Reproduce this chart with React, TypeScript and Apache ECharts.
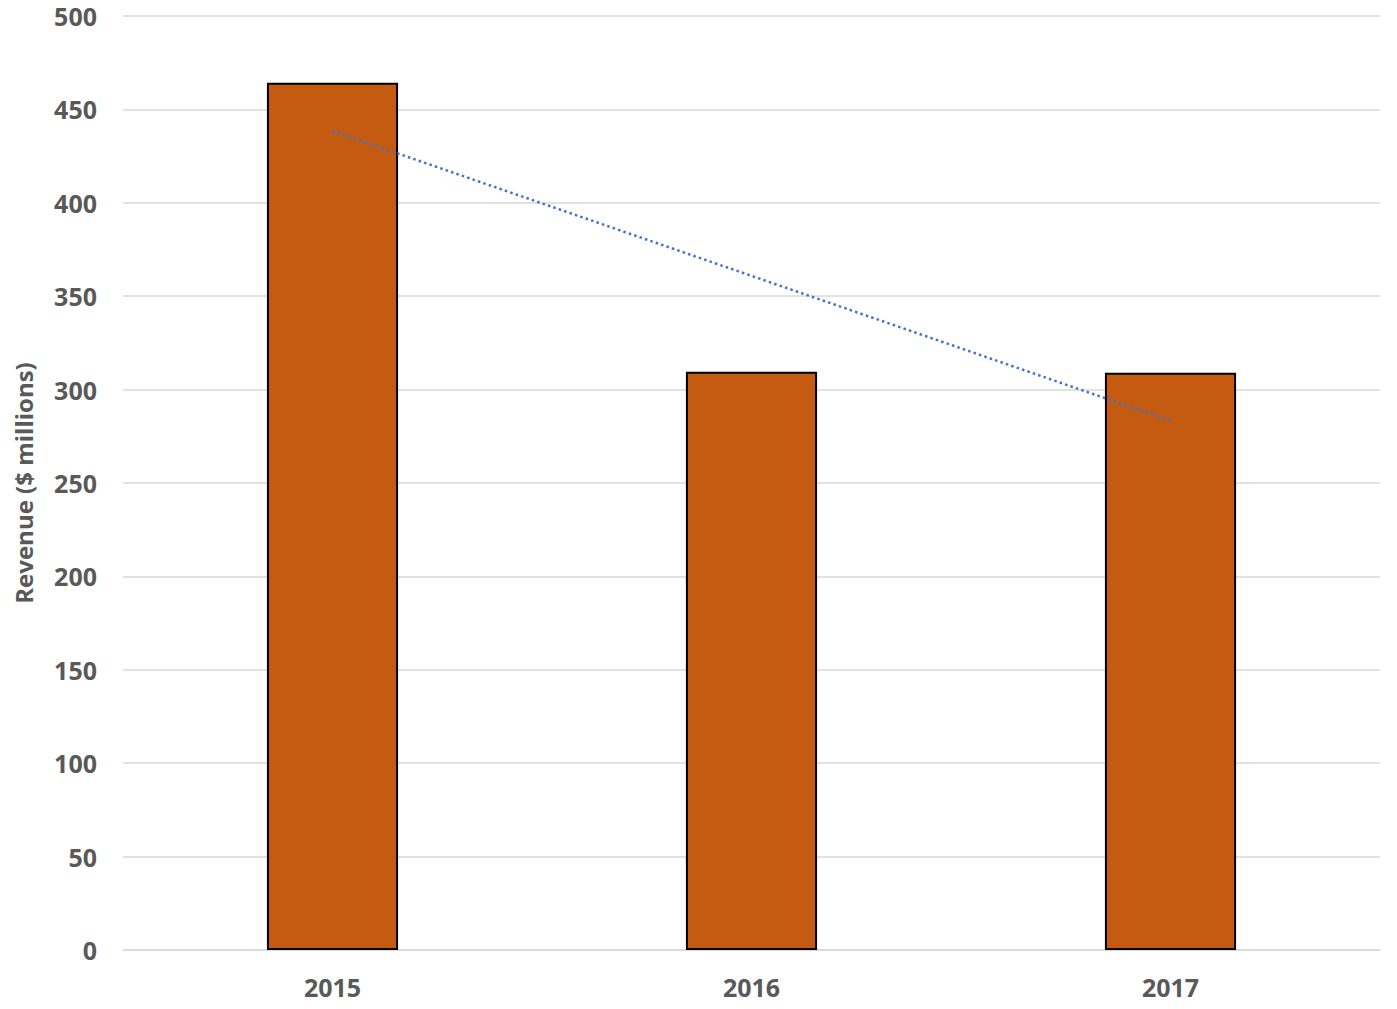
import React, { useEffect, useRef } from "react";
import * as echarts from "echarts";

const years = ["2015", "2016", "2017"];
const revenue = [464.2, 309.5, 309.0];
const yTicks = { min: 0, max: 500, interval: 50 };

function trend(values: number[]): number[] {
  const n = values.length;
  const xs = values.map((_, i) => i);
  const mx = xs.reduce((a, b) => a + b, 0) / n;
  const my = values.reduce((a, b) => a + b, 0) / n;
  let num = 0;
  let den = 0;
  xs.forEach((x, i) => {
    num += (x - mx) * (values[i] - my);
    den += (x - mx) * (x - mx);
  });
  const slope = num / den;
  return xs.map((x) => my + slope * (x - mx));
}

export default function App() {
  const ref = useRef<HTMLDivElement>(null);
  useEffect(() => {
    if (!ref.current) return;
    const chart = echarts.init(ref.current, undefined, { renderer: "svg" });
    const font = "'Open Sans', 'Liberation Sans', sans-serif";
    chart.setOption({
      animation: false,
      backgroundColor: "#ffffff",
      grid: { left: 123, right: 17, top: 16, bottom: 59 },
      xAxis: {
        type: "category",
        data: years,
        axisLine: { show: true, lineStyle: { color: "#d9d9d9", width: 1.5 } },
        axisTick: { show: false },
        axisLabel: {
          color: "#595959",
          fontFamily: font,
          fontWeight: "bold",
          fontSize: 25,
          margin: 24,
        },
      },
      yAxis: {
        type: "value",
        min: yTicks.min,
        max: yTicks.max,
        interval: yTicks.interval,
        name: "Revenue ($ millions)",
        nameLocation: "middle",
        nameGap: 88,
        nameTextStyle: {
          color: "#595959",
          fontFamily: font,
          fontWeight: "bold",
          fontSize: 24,
        },
        axisLine: { show: false },
        axisTick: { show: false },
        splitLine: { lineStyle: { color: "#d9d9d9", width: 1.5 } },
        axisLabel: {
          color: "#595959",
          fontFamily: font,
          fontWeight: "bold",
          fontSize: 25,
          margin: 26,
        },
      },
      series: [
        {
          type: "bar",
          data: revenue,
          barWidth: "31.3%",
          itemStyle: { color: "#c55a11", borderColor: "#000000", borderWidth: 2 },
          z: 2,
        },
        {
          type: "line",
          data: trend(revenue),
          symbol: "none",
          lineStyle: { color: "#4472c4", width: 2.5, type: [2.5, 3.2] },
          z: 3,
        },
      ],
    });
    return () => chart.dispose();
  }, []);
  return (
    <div
      ref={ref}
      style={{ position: "absolute", left: 0, top: 0, width: 1397, height: 1009 }}
    />
  );
}
